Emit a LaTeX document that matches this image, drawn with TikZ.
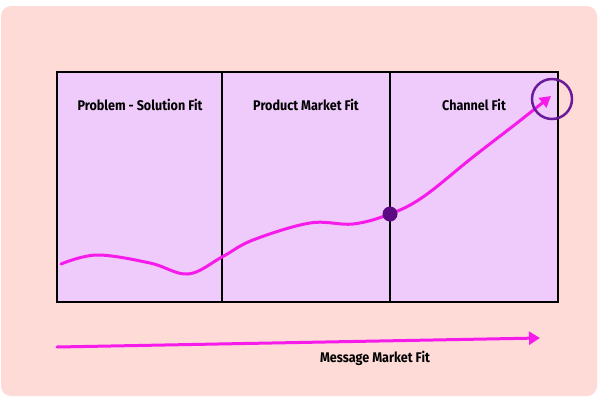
\documentclass[tikz,border=0pt]{standalone}
\usepackage{fontspec}
\setmainfont{Fira Sans}[FakeStretch=0.9]
\usetikzlibrary{arrows.meta}
\definecolor{bgpink}{HTML}{FEDBD7}
\definecolor{boxlilac}{HTML}{EECBFA}
\definecolor{fitmagenta}{HTML}{F71BEB}
\definecolor{dotpurple}{HTML}{5C0A82}
\definecolor{ringpurple}{HTML}{6A1B9A}
\tikzset{
  fitlabel/.style={font=\fontsize{14}{16}\selectfont\bfseries,inner sep=0pt},
  fitline/.style={fitmagenta,line width=3pt,line cap=round,line join=round},
}
\begin{document}
\begin{tikzpicture}[x=1pt,y=-1pt]
	\useasboundingbox(0,0)rectangle(600,400);
	\fill[bgpink,rounded corners=10pt](1,6)rectangle(597,396);
	\draw[line width=1.3pt,fill=boxlilac](57,72)rectangle(558,302);
	\draw[line width=1.3pt](222,72)--(222,302);
	\draw[line width=1.3pt](390,72)--(390,302);
	\node[fitlabel](psfit)at(140,105){Problem - Solution Fit};
	\node[fitlabel](pmfit)at(306,105){Product Market Fit};
	\node[fitlabel](chfit)at(474,105){Channel Fit};
	\coordinate(turn)at(390,214);
	\coordinate(goal)at(552,99);
	\draw[fitline,-{Triangle[length=11pt,width=12pt]}]plot[smooth,tension=.6]coordinates{(61,264)(97,255)(150,263)(188,274)(222,257)(253,240)(310,223)(353,224)(turn)(423,197)(473,157)(517,123)(551,96)};
	\fill[dotpurple](turn)circle(7.5);
	\draw[ringpurple,line width=2.5pt](goal)circle(20);
	\coordinate(mstart)at(57,347);
	\coordinate(mend)at(540,338);
	\draw[fitline,-{Triangle[length=11pt,width=13pt]}](mstart)--(mend);
	\node[fitlabel](mmfit)at(375,358){Message Market Fit};
\end{tikzpicture}
\end{document}
